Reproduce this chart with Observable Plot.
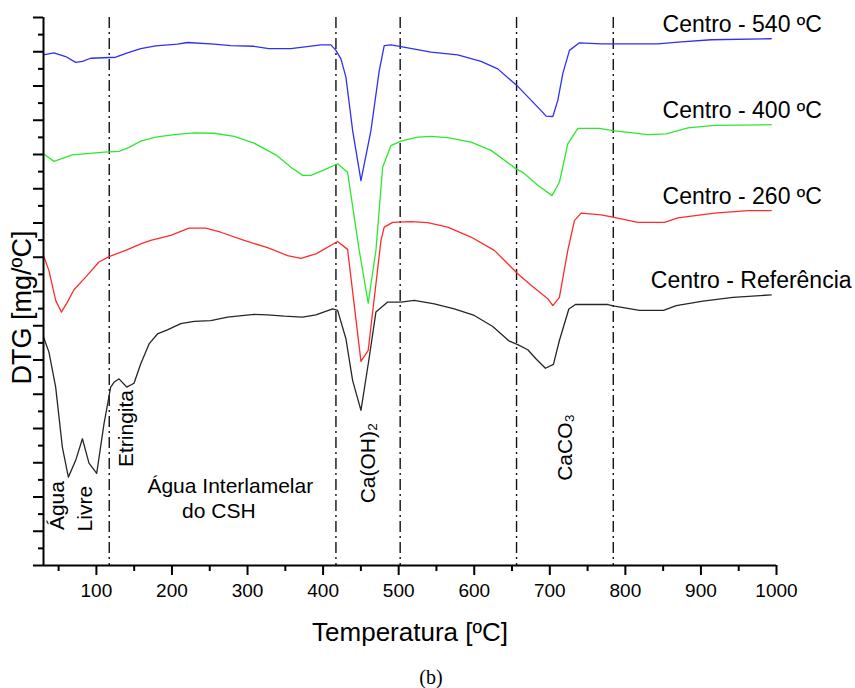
<!DOCTYPE html>
<html><head><meta charset="utf-8">
<script src="https://cdn.jsdelivr.net/npm/d3@7"></script>
<script src="https://cdn.jsdelivr.net/npm/@observablehq/plot@0.6"></script>
<style>body{margin:0;background:#fff;} #chart svg{display:block;}</style>
</head><body><div id="chart"></div>
<script>
const seriesNames = ["Centro - 540 ºC", "Centro - 400 ºC", "Centro - 260 ºC", "Centro - Referência"];
const seriesColors = ["#2f2ff5", "#2ee82e", "#ff2b2b", "#262626"];

const t540 = [30, 43.8, 59.3, 72.6, 81.5, 92.5, 125.6, 141.1, 158.7, 178.5, 207.3, 220.5, 255.8, 277.9, 308.3, 328.2, 357.4, 397.1, 410.3, 417.0, 423.6, 430.2, 439.1, 450.1, 463.3, 474.3, 480.9, 489.8, 503.0, 542.8, 578.1, 609.0, 631.1, 657.6, 688.5, 695.1, 704.0, 710.6, 717.2, 726.0, 739.2, 767.9, 843.0, 873.9, 913.6, 993];
const dtg540 = [14.91, 14.97, 14.86, 14.69, 14.72, 14.81, 14.84, 14.97, 15.09, 15.17, 15.22, 15.27, 15.22, 15.18, 15.16, 15.09, 15.09, 15.20, 15.20, 15.04, 14.79, 14.26, 12.70, 11.24, 12.70, 14.45, 15.18, 15.20, 15.15, 14.99, 14.91, 14.72, 14.50, 13.99, 13.28, 13.12, 13.11, 13.58, 14.36, 15.04, 15.26, 15.23, 15.23, 15.29, 15.35, 15.38];

const t400 = [30, 43.8, 68.2, 83.6, 110.1, 129.9, 143.2, 158.7, 178.5, 202.8, 229.3, 255.8, 282.3, 308.7, 337.5, 357.4, 372.8, 383.8, 401.5, 419.2, 432.4, 447.8, 459.7, 469.9, 478.8, 489.8, 503.0, 525.2, 542.8, 564.9, 595.7, 622.3, 655.4, 664.2, 684.1, 703.0, 712.7, 723.8, 737.1, 765.7, 783.4, 829.8, 854.0, 882.8, 918.0, 993];
const dtg400 = [12.02, 11.80, 11.99, 12.02, 12.07, 12.09, 12.21, 12.39, 12.51, 12.58, 12.63, 12.62, 12.53, 12.33, 11.99, 11.63, 11.39, 11.39, 11.55, 11.73, 11.48, 9.20, 7.66, 9.20, 11.63, 12.26, 12.39, 12.51, 12.53, 12.49, 12.36, 12.12, 11.58, 11.48, 11.10, 10.80, 11.19, 12.31, 12.76, 12.76, 12.70, 12.58, 12.60, 12.78, 12.85, 12.87];

const t260 = [30, 37.2, 46.1, 53.6, 61.6, 70.3, 85.8, 103.4, 116.7, 138.8, 158.7, 171.9, 198.4, 222.6, 244.8, 264.6, 295.5, 326.5, 353.0, 370.6, 390.5, 419.2, 432.4, 450.1, 459.7, 469.9, 476.6, 480.9, 492.1, 516.3, 538.4, 564.9, 595.7, 626.6, 657.6, 675.2, 697.3, 704.0, 712.7, 723.8, 732.6, 741.5, 767.9, 783.4, 816.6, 851.8, 869.5, 918.0, 962.3, 993];
const dtg260 = [9.05, 8.61, 7.74, 7.40, 7.69, 8.05, 8.42, 8.86, 9.02, 9.20, 9.39, 9.49, 9.64, 9.85, 9.85, 9.73, 9.49, 9.28, 9.05, 8.97, 9.10, 9.46, 9.23, 5.96, 6.28, 8.22, 9.49, 9.88, 10.02, 10.04, 10.01, 9.88, 9.59, 9.20, 8.52, 8.18, 7.79, 7.59, 7.83, 9.20, 10.07, 10.29, 10.24, 10.17, 10.02, 10.02, 10.15, 10.29, 10.36, 10.36];

const tRef = [30, 37.2, 46.1, 55.0, 62.9, 72.6, 81.5, 90.2, 100.4, 110.1, 118.9, 123.3, 129.9, 140.1, 149.8, 158.7, 169.7, 180.8, 194.0, 211.7, 229.3, 251.4, 273.5, 308.7, 326.5, 348.5, 372.8, 390.5, 412.6, 419.2, 430.2, 439.1, 450.1, 461.1, 469.9, 485.4, 503.0, 520.7, 547.2, 573.6, 600.1, 624.5, 646.5, 657.6, 670.9, 681.9, 694.2, 704.8, 712.7, 725.2, 733.9, 776.8, 785.6, 818.7, 850.5, 867.3, 902.6, 942.4, 993];
const dtgRef = [6.67, 6.23, 5.21, 3.45, 2.58, 3.07, 3.70, 2.99, 2.69, 4.14, 5.21, 5.35, 5.45, 5.21, 5.32, 5.89, 6.47, 6.76, 6.88, 7.06, 7.13, 7.15, 7.25, 7.33, 7.32, 7.28, 7.25, 7.32, 7.49, 7.45, 6.62, 5.40, 4.53, 6.08, 7.40, 7.69, 7.69, 7.74, 7.64, 7.49, 7.30, 6.98, 6.55, 6.45, 6.30, 6.03, 5.76, 5.87, 6.57, 7.49, 7.62, 7.62, 7.57, 7.45, 7.45, 7.59, 7.72, 7.83, 7.90];

const eventTemps = [117, 417, 502, 656, 784];
const xTicks = [100, 200, 300, 400, 500, 600, 700, 800, 900, 1000];
const xMinorTicks = [50, 150, 250, 350, 450, 550, 650, 750, 850, 950];
const yTicks = [0, 1, 2, 3, 4, 5, 6, 7, 8, 9, 10, 11, 12, 13, 14, 15, 16];
const yMinorTicks = [0.5, 1.5, 2.5, 3.5, 4.5, 5.5, 6.5, 7.5, 8.5, 9.5, 10.5, 11.5, 12.5, 13.5, 14.5, 15.5];

const annotTextRot = ["Água", "Livre", "Etringita", "Ca(OH)₂", "CaCO₃"];
const annotTRot = [48.7, 85.8, 140.1, 460.0, 720.3];
const annotVRot = [1.75, 1.66, 4.0, 2.99, 3.45];
const annotTextH = ["Água Interlamelar", "do CSH"];
const annotTH = [277.2, 262.0];
const annotVH = [2.32, 1.58];

const xTitle = "Temperatura [ºC]";
const yTitle = "DTG [mg/ºC]";
const caption = "(b)";

const allT = [t540, t400, t260, tRef];
const allV = [dtg540, dtg400, dtg260, dtgRef];
const rows = [];
allT.forEach((ts, i) => ts.forEach((t, j) => rows.push({series: seriesNames[i], t, v: allV[i][j]})));
const ends = seriesNames.map((name, i) => ({name, t: allT[i][allT[i].length - 1], v: allV[i][allV[i].length - 1]}));
const rotRows = annotTextRot.map((text, i) => ({text, t: annotTRot[i], v: annotVRot[i]}));
const hRows = annotTextH.map((text, i) => ({text, t: annotTH[i], v: annotVH[i]}));

const chart = Plot.plot({
  width: 855, height: 688,
  marginLeft: 43, marginRight: 79, marginTop: 17, marginBottom: 123,
  x: {domain: [30, 1000]},
  y: {domain: [0, 16]},
  color: {domain: seriesNames, range: seriesColors},
  style: {fontFamily: "'Liberation Sans', Arial, sans-serif", background: "#fff", color: "#000"},
  marks: [
    Plot.ruleX(eventTemps, {stroke: "#111", strokeWidth: 1.4, strokeDasharray: "11,4,2,4"}),
    Plot.line(rows, {x: "t", y: "v", z: "series", stroke: "series", strokeWidth: 1.3}),
    Plot.axisX({ticks: xMinorTicks, tickSize: 6, tickFormat: () => "", strokeWidth: 2, label: null}),
    Plot.axisX({ticks: xTicks, tickSize: 10, tickPadding: 8, tickFormat: d => String(d), fontSize: 19, strokeWidth: 2, label: null}),
    Plot.axisY({ticks: yMinorTicks, tickSize: 5, tickFormat: () => "", strokeWidth: 2, label: null}),
    Plot.axisY({ticks: yTicks, tickSize: 10, tickFormat: () => "", strokeWidth: 2, label: null}),
    Plot.ruleX([30], {y1: 0, y2: 16, strokeWidth: 2, stroke: "#000"}),
    Plot.ruleY([0], {x1: 30, x2: 1000, strokeWidth: 2, stroke: "#000"}),
    Plot.text(ends.slice(0, 3), {x: "t", y: "v", text: "name", dx: -29, dy: -14, fontSize: 23, textAnchor: "middle", lineAnchor: "middle", fill: "#000"}),
    Plot.text(ends.slice(3), {x: "t", y: "v", text: "name", dx: -20, dy: -14, fontSize: 23, textAnchor: "middle", lineAnchor: "middle", fill: "#000"}),
    Plot.text(rotRows, {x: "t", y: "v", text: "text", rotate: -90, fontSize: 21, textAnchor: "middle", lineAnchor: "middle", fill: "#000"}),
    Plot.text(hRows, {x: "t", y: "v", text: "text", fontSize: 21, textAnchor: "middle", lineAnchor: "middle", fill: "#000"}),
    Plot.text([yTitle], {frameAnchor: "left", rotate: -90, dx: -21, dy: 16, fontSize: 27, textAnchor: "middle", lineAnchor: "middle", fill: "#000"}),
    Plot.text([xTitle], {frameAnchor: "bottom", dy: 67, fontSize: 26, textAnchor: "middle", lineAnchor: "middle", fill: "#000"}),
    Plot.text([caption], {frameAnchor: "bottom", dx: 21, dy: 112, fontSize: 20, textAnchor: "middle", lineAnchor: "middle", fill: "#000", fontFamily: "'Liberation Serif', 'Times New Roman', serif"})
  ]
});
document.getElementById("chart").appendChild(chart);
</script>
</body></html>
